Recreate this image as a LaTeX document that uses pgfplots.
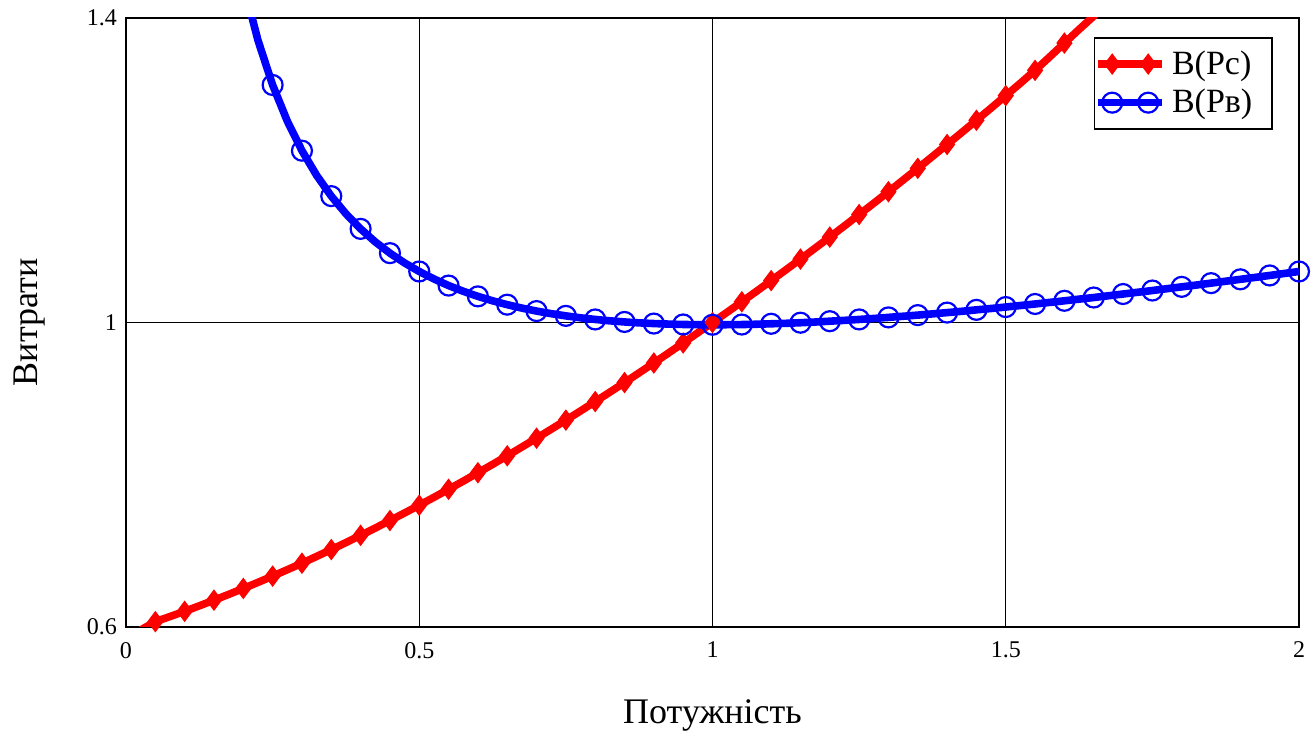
\documentclass[border=0pt]{standalone}
\usepackage{fontspec}
\setmainfont{Liberation Serif}
\usepackage{pgfplots}
\pgfplotsset{compat=1.18}

% B(Pc): цільова крива (червона)
\pgfplotstableread{
x y
0.025 0.5960
0.05 0.6070
0.075 0.6137
0.1 0.6206
0.125 0.6278
0.15 0.6352
0.175 0.6428
0.2 0.6506
0.225 0.6586
0.25 0.6668
0.275 0.6752
0.3 0.6838
0.325 0.6927
0.35 0.7017
0.375 0.7109
0.4 0.7204
0.425 0.7300
0.45 0.7398
0.475 0.7498
0.5 0.7600
0.525 0.7703
0.55 0.7809
0.575 0.7916
0.6 0.8026
0.625 0.8136
0.65 0.8249
0.675 0.8364
0.7 0.8480
0.725 0.8598
0.75 0.8717
0.775 0.8838
0.8 0.8961
0.825 0.9085
0.85 0.9211
0.875 0.9339
0.9 0.9468
0.925 0.9599
0.95 0.9731
0.975 0.9865
1.0 1.0000
1.025 1.0135
1.05 1.0272
1.075 1.0410
1.1 1.0550
1.125 1.0691
1.15 1.0833
1.175 1.0977
1.2 1.1122
1.225 1.1269
1.25 1.1418
1.275 1.1567
1.3 1.1718
1.325 1.1871
1.35 1.2025
1.375 1.2181
1.4 1.2338
1.425 1.2496
1.45 1.2656
1.475 1.2817
1.5 1.2980
1.525 1.3144
1.55 1.3312
1.575 1.3490
1.6 1.3670
1.625 1.3850
1.65 1.4025
1.675 1.4200
1.7 1.4380
}\redtab

% B(Pв): синя крива
\pgfplotstableread{
x y
0.2 1.4450
0.225 1.3707
0.25 1.3120
0.275 1.2646
0.3 1.2257
0.325 1.1933
0.35 1.1660
0.375 1.1428
0.4 1.1230
0.425 1.1059
0.45 1.0911
0.475 1.0782
0.5 1.0670
0.525 1.0572
0.55 1.0485
0.575 1.0410
0.6 1.0343
0.625 1.0285
0.65 1.0234
0.675 1.0189
0.7 1.0150
0.725 1.0116
0.75 1.0087
0.775 1.0061
0.8 1.0040
0.825 1.0022
0.85 1.0007
0.875 0.9995
0.9 0.9986
0.925 0.9979
0.95 0.9974
0.975 0.9971
1.0 0.9970
1.025 0.9971
1.05 0.9973
1.075 0.9977
1.1 0.9983
1.125 0.9989
1.15 0.9997
1.175 1.0006
1.2 1.0017
1.225 1.0028
1.25 1.0040
1.275 1.0053
1.3 1.0067
1.325 1.0082
1.35 1.0097
1.375 1.0113
1.4 1.0130
1.425 1.0147
1.45 1.0166
1.475 1.0184
1.5 1.0203
1.525 1.0223
1.55 1.0243
1.575 1.0264
1.6 1.0285
1.625 1.0307
1.65 1.0328
1.675 1.0351
1.7 1.0374
1.725 1.0397
1.75 1.0420
1.775 1.0444
1.8 1.0468
1.825 1.0492
1.85 1.0517
1.875 1.0542
1.9 1.0567
1.925 1.0592
1.95 1.0618
1.975 1.0644
2.0 1.0670
}\bluetab

\begin{document}
\begin{tikzpicture}
\begin{axis}[
    scale only axis,
    width=586.5pt, height=304.5pt,
    xmin=0, xmax=2, ymin=0.6, ymax=1.4,
    xtick={0,0.5,1,1.5,2},
    ytick={0.6,1,1.4},
    grid=major,
    major grid style={black, line width=0.5pt},
    major tick length=0pt,
    axis line style={black, line width=1.1pt},
    /pgf/number format/assume math mode=true,
    tick label style={font=\fontsize{12}{14}\selectfont},
    xticklabel style={yshift=-4pt},
    yticklabel style={xshift=-1pt},
    xlabel={Потужність},
    ylabel={Витрати},
    label style={font=\fontsize{18}{21}\selectfont},
    xlabel style={at={(axis description cs:0.5,-0.145)}, anchor=center},
    ylabel style={at={(axis description cs:-0.082,0.5)}, anchor=center},
    legend style={at={(axis description cs:0.978,0.969)}, anchor=north east,
        draw=black, line width=0.9pt, font=\fontsize{17}{20}\selectfont,
        row sep=3pt, inner xsep=0pt, inner ysep=5pt,
        nodes={inner xsep=3pt, inner ysep=1.5pt}},
    legend cell align=left,
    legend image code/.code={
        \draw[mark=none] (-3pt,0pt) -- (29pt,0pt);
        \draw[mark repeat=1, mark phase=1] plot coordinates {(4pt,0pt) (22pt,0pt)};
    },
    clip=true,
]
\addplot[red, line width=3.8pt, mark=diamond*, mark size=5pt,
    mark repeat=2, mark phase=1, mark options={solid, line width=0.5pt, fill=red}]
    table[x=x, y=y] {\redtab};
\addlegendentry{В(Рс)\hspace*{7pt}}
\addplot[blue, line width=3.8pt, mark=o, mark size=5pt,
    mark repeat=2, mark phase=2, mark options={solid, line width=1.1pt}]
    table[x=x, y=y] {\bluetab};
\addlegendentry{В(Рв)\hspace*{7pt}}
\coordinate (bl) at (rel axis cs:0,0);
\coordinate (tr) at (rel axis cs:1,1);
\end{axis}
\pgfresetboundingbox
\path ([xshift=-63pt, yshift=-53.5pt]bl) rectangle ([xshift=6pt, yshift=9pt]tr);
\end{tikzpicture}
\end{document}
